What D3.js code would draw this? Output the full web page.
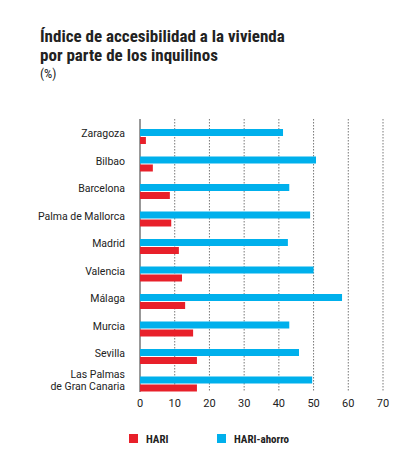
<!DOCTYPE html>
<html><head><meta charset="utf-8">
<script src="https://cdn.jsdelivr.net/npm/d3@7"></script>
<style>
body{margin:0;background:#fff;font-family:"Liberation Sans Narrow","Roboto Condensed",Roboto,sans-serif;}
</style></head><body>
<svg id="chart" width="416" height="449"></svg>
<script>
var cities = ["Zaragoza","Bilbao","Barcelona","Palma de Mallorca","Madrid","Valencia","Málaga","Murcia","Sevilla","Las Palmas|de Gran Canaria"];
var hari = [1.7,3.7,8.6,9,11.2,12.1,13,15.3,16.4,16.4];
var hariAhorro = [41.2,50.7,43,49,42.6,50,58.2,43,45.8,49.6];
var ticks = [0,10,20,30,40,50,60,70];

var svg = d3.select("#chart");
var red = "#e8202a", blue = "#00b0ec";

svg.append("text").attr("x",40).attr("y",42).attr("font-size",17).attr("font-weight","bold").attr("fill","#222").text("Índice de accesibilidad a la vivienda");
svg.append("text").attr("x",40).attr("y",61).attr("font-size",17).attr("font-weight","bold").attr("fill","#222").text("por parte de los inquilinos");
svg.append("text").attr("x",40).attr("y",78).attr("font-size",13).attr("fill","#222").text("(%)");

var x = d3.scaleLinear().domain([0,70]).range([140,383]);
var y = d3.scaleBand().domain(cities).range([119,394]);

var g = svg.append("g");
ticks.forEach(function(t){
  g.append("line").attr("x1",x(t)).attr("x2",x(t)).attr("y1",119).attr("y2",392)
   .attr("stroke", t===0 ? "#333" : "#555").attr("stroke-width",t===0?1:0.8)
   .attr("stroke-dasharray", t===0 ? null : "1.5,1.5");
  g.append("text").attr("x",x(t)).attr("y",407).attr("text-anchor","middle").attr("font-size",11).attr("font-family","Roboto,sans-serif").attr("fill","#222").text(t);
});

var rows = svg.selectAll(".row").data(cities).enter().append("g")
  .attr("transform",function(d){return "translate(0,"+y(d)+")";});
rows.append("rect").attr("x",x(0)).attr("y",10).attr("height",7)
  .attr("width",function(d,i){return x(hariAhorro[i])-x(0);}).attr("fill",blue);
rows.append("rect").attr("x",x(0)).attr("y",18).attr("height",7)
  .attr("width",function(d,i){return x(hari[i])-x(0);}).attr("fill",red);
rows.each(function(d){
  var parts = d.split("|"), el = d3.select(this);
  parts.forEach(function(p,k){
    el.append("text").attr("x",125).attr("text-anchor","end").attr("font-size",10.5).attr("font-family","Roboto,sans-serif").attr("fill","#222")
      .attr("y", parts.length===1 ? 18 : 11 + k*12).text(p);
  });
});

svg.append("rect").attr("x",129).attr("y",434).attr("width",9).attr("height",9).attr("fill",red);
svg.append("text").attr("x",146).attr("y",443).attr("font-size",11).attr("font-weight","bold").attr("fill","#222").text("HARI");
svg.append("rect").attr("x",217).attr("y",434).attr("width",9).attr("height",9).attr("fill",blue);
svg.append("text").attr("x",234).attr("y",443).attr("font-size",11).attr("font-weight","bold").attr("fill","#222").text("HARI-ahorro");
</script></body></html>
